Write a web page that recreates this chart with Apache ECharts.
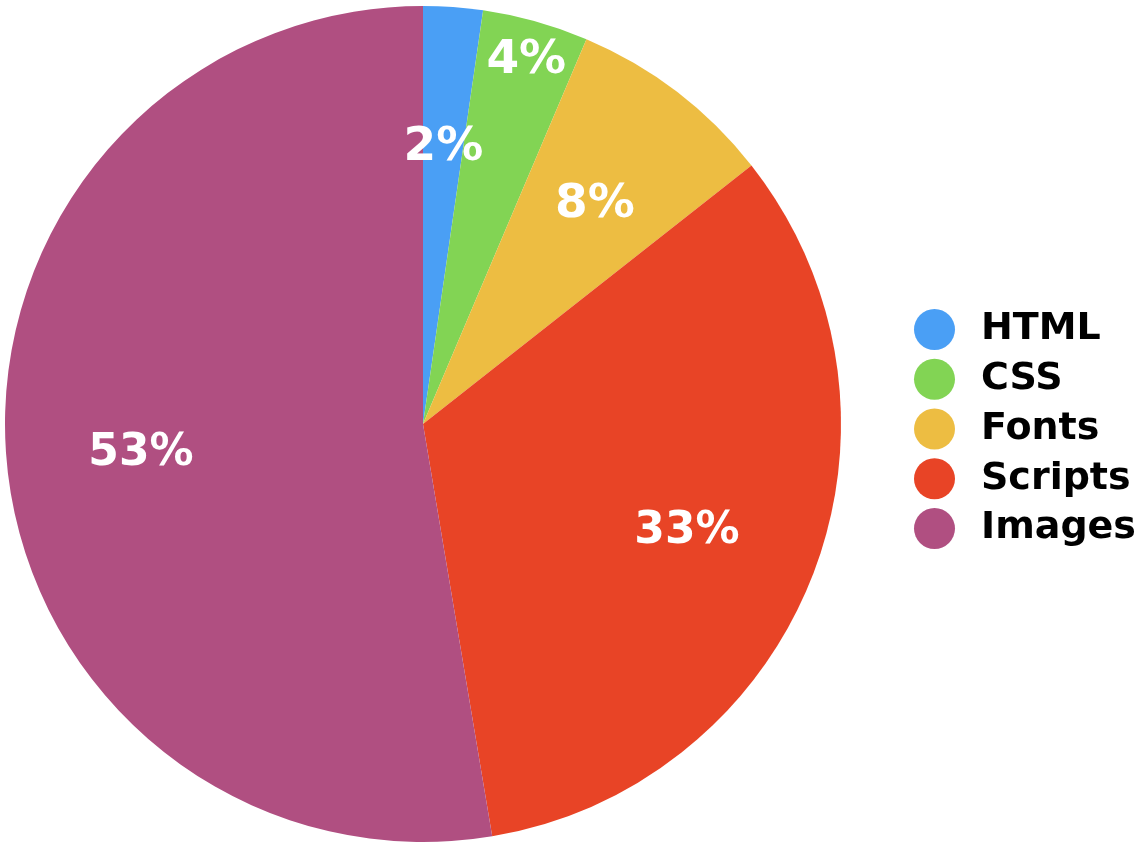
<!DOCTYPE html>
<html>
<head>
<meta charset="utf-8">
<script src="https://cdn.jsdelivr.net/npm/echarts@6/dist/echarts.min.js"></script>
<style>
html,body{margin:0;padding:0;background:#fff;}
#chart{width:1144px;height:847px;}
</style>
</head>
<body>
<div id="chart"></div>
<script>
const categories = ['HTML', 'CSS', 'Fonts', 'Scripts', 'Images'];
const values = [2.3, 4.1, 8.0, 33.0, 52.7];
const colors = ['#4a9ff5', '#82d454', '#edbd42', '#e84426', '#b04f81'];

const chart = echarts.init(document.getElementById('chart'), null, {renderer: 'canvas'});
const FONT = '"DejaVu Sans", "Liberation Sans", sans-serif';
const total = values.reduce((a, b) => a + b, 0);

const mainData = categories.map((c, i) => ({
  name: c, value: values[i], itemStyle: {color: colors[i]}
}));

const labelData = categories.map((c, i) => {
  const pct = values[i] / total * 100;
  const item = {
    name: c, value: values[i],
    label: {fontSize: pct < 10 ? 47 : 44, offset: [0, 6]}
  };
  if (c === 'CSS') {
    // push the narrow slice's label further out, as in the reference
    const mid = (values.slice(0, i).reduce((a, b) => a + b, 0) + values[i] / 2) / total * 2 * Math.PI;
    const shift = 100;
    item.label.offset = [Math.sin(mid) * shift, -Math.cos(mid) * shift + 6];
  }
  return item;
});

chart.setOption({
  backgroundColor: '#ffffff',
  animation: false,
  legend: {
    orient: 'vertical',
    left: 909,
    top: 304,
    icon: 'circle',
    itemWidth: 41,
    itemHeight: 41,
    itemGap: 8.75,
    data: categories,
    textStyle: {
      fontFamily: FONT,
      fontSize: 38,
      fontWeight: 'bold',
      color: '#000',
      lineHeight: 41,
      padding: [0, 0, 0, 21]
    },
    selectedMode: false
  },
  series: [
    {
      type: 'pie',
      center: [423, 424],
      radius: [0, 418],
      startAngle: 90,
      clockwise: true,
      silent: true,
      label: {show: false},
      labelLine: {show: false},
      itemStyle: {borderWidth: 0},
      data: mainData
    },
    {
      type: 'pie',
      center: [423, 424],
      radius: [142, 418],
      startAngle: 90,
      clockwise: true,
      silent: true,
      itemStyle: {color: 'rgba(0,0,0,0)', borderWidth: 0},
      label: {
        show: true,
        position: 'inside',
        color: '#fff',
        fontFamily: FONT,
        fontWeight: 'bold',
        fontSize: 44,
        formatter: p => Math.round(p.percent) + '%'
      },
      labelLine: {show: false},
      data: labelData
    }
  ]
});
</script>
</body>
</html>
